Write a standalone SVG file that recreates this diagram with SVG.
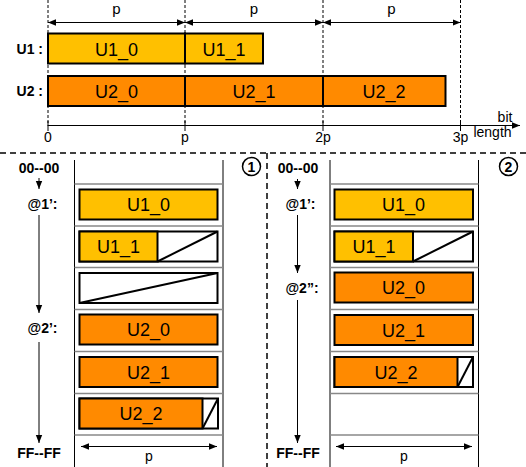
<svg xmlns="http://www.w3.org/2000/svg" width="526" height="467" viewBox="0 0 526 467">
<style>
text{font-family:"Liberation Sans",Arial,sans-serif;fill:#000}
.lbl{font-size:14px;font-weight:bold}
.box{font-size:18px;text-anchor:middle}
.dim{font-size:15px;text-anchor:middle}
.ax{font-size:14px;text-anchor:middle}
.y{fill:#FFC000;stroke:#000;stroke-width:2}
.o{fill:#FF8A00;stroke:#000;stroke-width:2}
.w{fill:#fff;stroke:#000;stroke-width:2}
.diag{stroke:#000;stroke-width:2;fill:none}
.vd{stroke:#000;stroke-width:1;stroke-dasharray:3,2;fill:none}
.sep{stroke:#000;stroke-width:1.5;stroke-dasharray:6,4;fill:none}
.grid{stroke:#888;stroke-width:1.5}
.col{stroke:#000;stroke-width:1}
.arr{stroke:#000;stroke-width:1;fill:none}
.num{font-size:14px;font-weight:bold;text-anchor:middle}
</style>
<defs>
<marker id="ah" viewBox="0 0 10 10" refX="10" refY="5" markerWidth="8" markerHeight="8" markerUnits="userSpaceOnUse" orient="auto-start-reverse">
<path d="M0,1 L10,5 L0,9 z" fill="#000"/>
</marker>
</defs>

<!-- top section guides -->
<g id="guides">
<line class="vd" x1="48" y1="0" x2="48" y2="126"/>
<line class="vd" x1="185" y1="0" x2="185" y2="126"/>
<line class="vd" x1="323" y1="0" x2="323" y2="126"/>
<line class="vd" x1="460.5" y1="0" x2="460.5" y2="126"/>
</g>

<g id="connectors">
<line class="arr" x1="48" y1="22.5" x2="185" y2="22.5" marker-start="url(#ah)" marker-end="url(#ah)"/>
<line class="arr" x1="185" y1="22.5" x2="323" y2="22.5" marker-start="url(#ah)" marker-end="url(#ah)"/>
<line class="arr" x1="323" y1="22.5" x2="460.5" y2="22.5" marker-start="url(#ah)" marker-end="url(#ah)"/>
<line class="arr" x1="48" y1="125.5" x2="520" y2="125.5" marker-end="url(#ah)"/>
<line class="arr" x1="48" y1="121" x2="48" y2="131"/>
<line class="arr" x1="185" y1="121" x2="185" y2="131"/>
<line class="arr" x1="323" y1="121" x2="323" y2="131"/>
<line class="arr" x1="460.5" y1="121" x2="460.5" y2="131"/>
<!-- left timeline -->
<line class="arr" x1="39" y1="178" x2="39" y2="189" marker-end="url(#ah)"/>
<line class="arr" x1="39" y1="215" x2="39" y2="313" marker-end="url(#ah)"/>
<line class="arr" x1="39" y1="342" x2="39" y2="443" marker-end="url(#ah)"/>
<!-- right timeline -->
<line class="arr" x1="297.5" y1="179" x2="297.5" y2="189" marker-end="url(#ah)"/>
<line class="arr" x1="297.5" y1="215" x2="297.5" y2="273" marker-end="url(#ah)"/>
<line class="arr" x1="297.5" y1="300" x2="297.5" y2="443" marker-end="url(#ah)"/>
<!-- bottom p arrows -->
<line class="arr" x1="81" y1="446.5" x2="217" y2="446.5" marker-start="url(#ah)" marker-end="url(#ah)"/>
<line class="arr" x1="336" y1="446.5" x2="472" y2="446.5" marker-start="url(#ah)" marker-end="url(#ah)"/>
</g>

<g id="dim-labels">
<text class="dim" x="116.5" y="14">p</text>
<text class="dim" x="254" y="14">p</text>
<text class="dim" x="391.5" y="14">p</text>
<text class="ax" x="48" y="142">0</text>
<text class="ax" x="185" y="142">p</text>
<text class="ax" x="323" y="142">2p</text>
<text class="ax" x="460.5" y="142">3p</text>
<text class="ax" x="505" y="122">bit</text>
<text class="ax" x="492.5" y="137">length</text>
</g>

<g id="U1-row">
<text class="lbl" x="43" y="54" text-anchor="end">U1 :</text>
<rect class="y" x="48" y="33.5" width="137" height="30"/>
<text class="box" x="116.5" y="55.5">U1_0</text>
<rect class="y" x="185" y="33.5" width="78" height="30"/>
<text class="box" x="224" y="55.5">U1_1</text>
</g>

<g id="U2-row">
<text class="lbl" x="43" y="96" text-anchor="end">U2 :</text>
<rect class="o" x="48" y="76" width="137" height="30"/>
<text class="box" x="116.5" y="98">U2_0</text>
<rect class="o" x="185" y="76" width="138" height="30"/>
<text class="box" x="254" y="98">U2_1</text>
<rect class="o" x="323" y="76" width="122.5" height="30"/>
<text class="box" x="384" y="98">U2_2</text>
</g>

<g id="separators">
<line class="sep" x1="0" y1="153" x2="526" y2="153"/>
<line class="sep" x1="267" y1="153" x2="267" y2="467"/>
</g>

<!-- Panel 1 -->
<g id="panel1">
<line class="col" x1="74.5" y1="160" x2="74.5" y2="467"/>
<line class="col" x1="223" y1="160" x2="223" y2="467"/>
<line class="grid" x1="74.5" y1="184" x2="223" y2="184"/>
<line class="grid" x1="74.5" y1="226" x2="223" y2="226"/>
<line class="grid" x1="74.5" y1="267.5" x2="223" y2="267.5"/>
<line class="grid" x1="74.5" y1="309.5" x2="223" y2="309.5"/>
<line class="grid" x1="74.5" y1="351.5" x2="223" y2="351.5"/>
<line class="grid" x1="74.5" y1="393.5" x2="223" y2="393.5"/>
<line class="grid" x1="74.5" y1="435" x2="223" y2="435"/>
<circle cx="251.5" cy="166.5" r="9" fill="#fff" stroke="#000" stroke-width="1.5"/>
<text class="num" x="251.5" y="171.5">1</text>
<text class="num" x="39" y="173">00--00</text>
<text class="num" x="42.5" y="209">@1’:</text>
<text class="num" x="42.5" y="333">@2’:</text>
<text class="num" x="39" y="458">FF--FF</text>
<text class="ax" x="149" y="461">p</text>
</g>
<g id="p1-U1_0">
<rect class="y" x="79.5" y="189.5" width="138" height="30"/>
<text class="box" x="148.5" y="211">U1_0</text>
</g>
<g id="p1-U1_1">
<rect class="w" x="79.5" y="231.5" width="138" height="30"/>
<rect class="y" x="79.5" y="231.5" width="78" height="30"/>
<line class="diag" x1="157.5" y1="261.5" x2="217.5" y2="231.5"/>
<text class="box" x="118.5" y="253">U1_1</text>
</g>
<g id="p1-empty">
<rect class="w" x="79.5" y="273" width="138" height="30"/>
<line class="diag" x1="79.5" y1="303" x2="217.5" y2="273"/>
</g>
<g id="p1-U2_0">
<rect class="o" x="79.5" y="314.5" width="138" height="30"/>
<text class="box" x="148.5" y="336">U2_0</text>
</g>
<g id="p1-U2_1">
<rect class="o" x="79.5" y="357" width="138" height="30"/>
<text class="box" x="148.5" y="378.5">U2_1</text>
</g>
<g id="p1-U2_2">
<rect class="w" x="79.5" y="398.5" width="138.5" height="30"/>
<rect class="o" x="79.5" y="398.5" width="123" height="30"/>
<line class="diag" x1="202.5" y1="428.5" x2="218" y2="398.5"/>
<text class="box" x="141" y="420">U2_2</text>
</g>

<!-- Panel 2 -->
<g id="panel2">
<line class="col" x1="330" y1="160" x2="330" y2="467"/>
<line class="col" x1="478.5" y1="160" x2="478.5" y2="467"/>
<line class="grid" x1="330" y1="184" x2="478.5" y2="184"/>
<line class="grid" x1="330" y1="226" x2="478.5" y2="226"/>
<line class="grid" x1="330" y1="267.5" x2="478.5" y2="267.5"/>
<line class="grid" x1="330" y1="309.5" x2="478.5" y2="309.5"/>
<line class="grid" x1="330" y1="351.5" x2="478.5" y2="351.5"/>
<line class="grid" x1="330" y1="393.5" x2="478.5" y2="393.5"/>
<line class="grid" x1="330" y1="435" x2="478.5" y2="435"/>
<circle cx="508.5" cy="166.5" r="9" fill="#fff" stroke="#000" stroke-width="1.5"/>
<text class="num" x="508.5" y="171.5">2</text>
<text class="num" x="298" y="173">00--00</text>
<text class="num" x="300.5" y="209">@1’:</text>
<text class="num" x="302" y="293">@2”:</text>
<text class="num" x="298" y="458">FF--FF</text>
<text class="ax" x="404" y="461">p</text>
</g>
<g id="p2-U1_0">
<rect class="y" x="334.5" y="189.5" width="138.5" height="30"/>
<text class="box" x="403.5" y="211">U1_0</text>
</g>
<g id="p2-U1_1">
<rect class="w" x="334.5" y="231.5" width="138.5" height="30"/>
<rect class="y" x="334.5" y="231.5" width="78.5" height="30"/>
<line class="diag" x1="413" y1="261.5" x2="473" y2="231.5"/>
<text class="box" x="374" y="253">U1_1</text>
</g>
<g id="p2-U2_0">
<rect class="o" x="334.5" y="272.5" width="138.5" height="30"/>
<text class="box" x="403.5" y="294">U2_0</text>
</g>
<g id="p2-U2_1">
<rect class="o" x="334.5" y="315" width="138.5" height="30"/>
<text class="box" x="403.5" y="336.5">U2_1</text>
</g>
<g id="p2-U2_2">
<rect class="w" x="334.5" y="357" width="138.5" height="30"/>
<rect class="o" x="334.5" y="357" width="123" height="30"/>
<line class="diag" x1="457.5" y1="387" x2="473" y2="357"/>
<text class="box" x="396" y="378.5">U2_2</text>
</g>
</svg>
